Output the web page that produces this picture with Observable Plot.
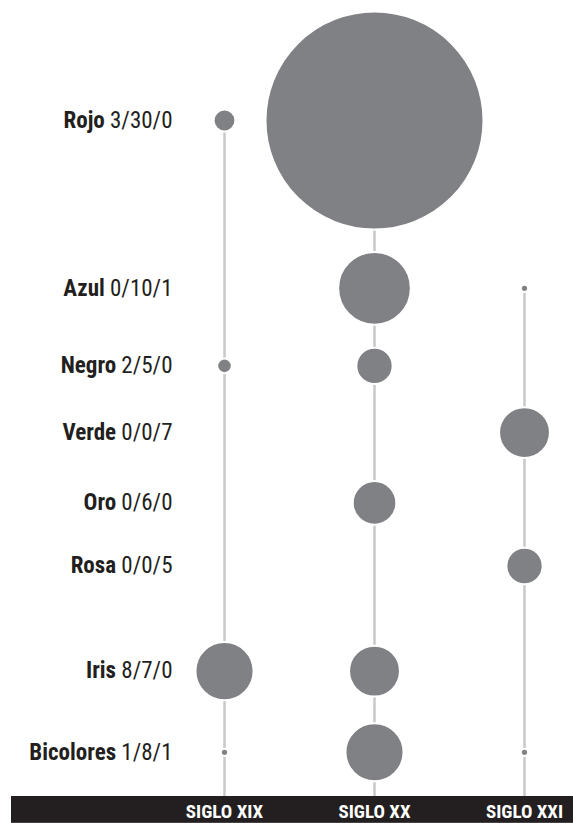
<!DOCTYPE html>
<html>
<head>
<meta charset="utf-8">
<script src="https://cdn.jsdelivr.net/npm/d3@7"></script>
<script src="https://cdn.jsdelivr.net/npm/@observablehq/plot@0.6"></script>
<style>
  html, body { margin: 0; padding: 0; background: #fff; }
  #chart svg { display: block; }
</style>
</head>
<body>
<div id="chart"></div>
<script>
// ---- data ----
const flowers = ["Rojo", "Azul", "Negro", "Verde", "Oro", "Rosa", "Iris", "Bicolores"];
const centuries = ["SIGLO XIX", "SIGLO XX", "SIGLO XXI"];
const sigloXIX = [3, 0, 2, 0, 0, 0, 8, 1];
const sigloXX  = [30, 10, 5, 0, 6, 0, 7, 8];
const sigloXXI = [0, 1, 0, 7, 0, 5, 0, 1];
const seriesByCentury = [sigloXIX, sigloXX, sigloXXI];

// ---- style / layout ----
const FONT = '"Liberation Sans Narrow", "Roboto Condensed", "DejaVu Sans", sans-serif';
const rMax = 109;                 // radius for the largest value (30)
const vMax = 30;
const rowGap = 23.5;              // gap between neighbouring rows' circles
const groupBreakBefore = "Iris";  // extra space before this row
const groupGap = 35;
const bottomPad = 44.5;

// row layout computed from circle radii
const rowMaxR = flowers.map((f, i) => Math.max(...seriesByCentury.map(s => s[i])) * rMax / vMax);
const rowY = [];
flowers.forEach((f, i) => {
  if (i === 0) rowY.push(0);
  else rowY.push(rowY[i - 1] + rowMaxR[i - 1] + rowMaxR[i] + rowGap + (f === groupBreakBefore ? groupGap : 0));
});
const base = rowY[rowY.length - 1] + bottomPad;

const cells = [];
flowers.forEach((f, i) => centuries.forEach((c, j) => cells.push({flower: f, century: c, value: seriesByCentury[j][i], y: rowY[i]})));

const rules = centuries.map((c, j) => {
  const first = seriesByCentury[j].findIndex(v => v > 0);
  return {century: c, top: rowY[first]};
});

const labels = flowers.map((f, i) => ({
  flower: f,
  y: rowY[i],
  text: f + " " + seriesByCentury.map(s => s[i]).join("/")
}));

const plot = Plot.plot({
  width: 573,
  height: 823,
  marginTop: 0,
  marginLeft: 11,
  marginRight: 0,
  marginBottom: 27,
  style: {background: "#fff", fontFamily: FONT},
  x: {type: "point", domain: centuries, range: [224, 524], padding: 0, axis: null},
  y: {domain: [0, base], range: [120, 796], axis: null},
  r: {type: "linear", domain: [0, vMax], range: [0, rMax]},
  marks: [
    Plot.rect([0], {y1: base, y2: base + 27, fill: "#231f20"}),
    Plot.ruleX(rules, {x: "century", y1: "top", y2: base, stroke: "#c8c8c8", strokeWidth: 2.5}),
    Plot.dot(cells, {x: "century", y: "y", r: "value", fill: "#808184", stroke: "#fff", strokeWidth: 2}),
    Plot.text(labels, {
      x: () => centuries[0], y: "y", text: "text",
      textAnchor: "end", dx: -52, fontSize: 23, fill: "#231f20",
      lineAnchor: "middle", className: "rowlabel"
    }),
    Plot.axisX({
      anchor: "bottom", tickSize: 0, tickPadding: 8, fontSize: 19,
      fontWeight: "bold", fill: "#fff", color: "#fff", label: null
    })
  ]
});

document.getElementById("chart").appendChild(plot);

// bold flower name + regular counts
plot.querySelectorAll(".rowlabel text").forEach(t => {
  const s = t.textContent;
  const k = s.indexOf(" ");
  const name = s.slice(0, k), rest = s.slice(k);
  t.textContent = "";
  const b = document.createElementNS("http://www.w3.org/2000/svg", "tspan");
  b.setAttribute("font-weight", "bold");
  b.textContent = name;
  t.appendChild(b);
  t.appendChild(document.createTextNode(rest));
});
</script>
</body>
</html>
